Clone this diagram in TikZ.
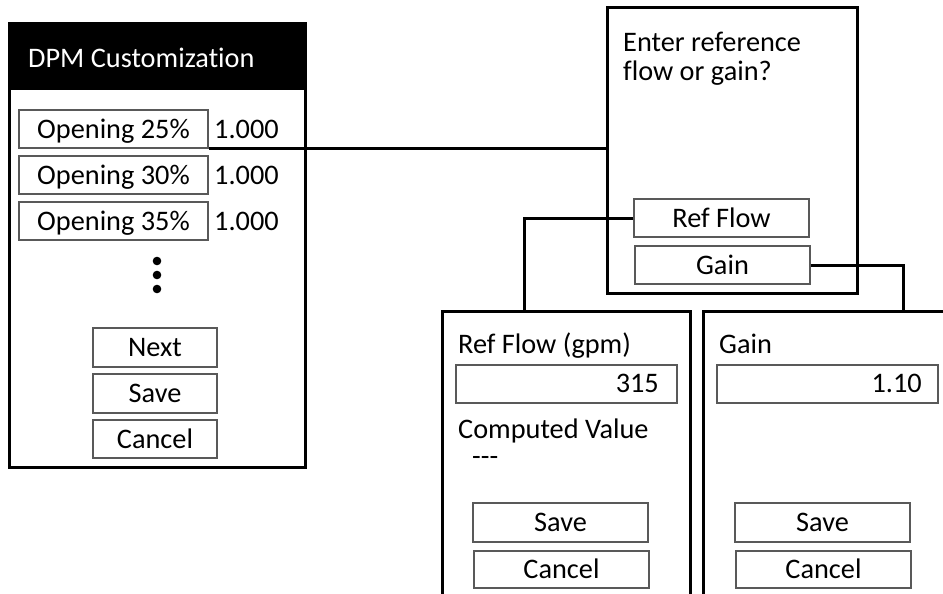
\documentclass[tikz,border=0pt]{standalone}
\usepackage{fontspec}
\setmainfont{Carlito}[Ligatures=NoCommon]
\begin{document}
\begin{tikzpicture}[x=1pt,y=-1pt,
  panel/.style={draw=black,line width=3pt,rectangle,inner sep=0pt},
  btn/.style={draw=black!65,line width=1.4pt,rectangle,inner sep=0pt,
    minimum width=175pt,minimum height=38pt,text height=20pt,text depth=2pt,
    font=\fontsize{28.3}{34}\selectfont},
  lbl/.style={inner sep=0pt,anchor=base west,font=\fontsize{28.3}{34}\selectfont},
  rlbl/.style={inner sep=0pt,anchor=base east,font=\fontsize{28.3}{34}\selectfont},
  conn/.style={draw=black,line width=3pt}]
\useasboundingbox (0,0) rectangle (943,594);
\clip (0,0) rectangle (943,594);
\fill[white] (0,0) rectangle (943,594);

% left panel
\node[panel,minimum width=296pt,minimum height=443pt] (left) at (157,245.5) {};
\node[panel,fill=black,minimum width=296pt,minimum height=65pt] (head) at (157,56.5) {};
\node[lbl,text=white] (htxt) at (28,67) {DPM Customization};

\node[btn,minimum width=189pt] (o25) at (113.5,129) {Opening 25\%};
\node[btn,minimum width=189pt] (o30) at (113.5,175) {Opening 30\%};
\node[btn,minimum width=189pt] (o35) at (113.5,221) {Opening 35\%};
\node[lbl] (v25) at (214,138) {1.000};
\node[lbl] (v30) at (214,184) {1.000};
\node[lbl] (v35) at (214,230) {1.000};
\fill (157,261) circle (4.3pt) (157,275) circle (4.3pt) (157,289) circle (4.3pt);

\node[btn,minimum width=124pt,minimum height=39pt] (next) at (155,347.5) {Next};
\node[btn,minimum width=124pt,minimum height=39pt] (save1) at (155,393.5) {Save};
\node[btn,minimum width=124pt,minimum height=38pt] (cancel1) at (155,439) {Cancel};

% dialog
\node[panel,minimum width=250pt,minimum height=285pt] (dlg) at (732,150.5) {};
\node[inner sep=0pt,anchor=base west,align=left,font=\fontsize{28.3}{29}\selectfont] (q) at (623,81) {Enter reference\\flow or gain?};
\node[btn] (rf) at (721.5,218) {Ref Flow};
\node[btn] (gain) at (722.5,265) {Gain};

% ref flow panel
\node[panel,minimum width=248pt,minimum height=309pt] (rfp) at (566,465.5) {};
\node[lbl] (rft) at (458,353) {Ref Flow (gpm)};
\node[btn,minimum width=221pt] (rfe) at (566.5,384) {};
\node[rlbl] (rfv) at (659,392) {315};
\node[lbl] (cv) at (458,438) {Computed Value};
\node[lbl] (cvv) at (472,465) {{-}{-}{-}};
\node[btn,minimum height=39pt] (save2) at (560.5,522.5) {Save};
\node[btn,minimum height=37pt] (cancel2) at (561.5,569.5) {Cancel};

% gain panel
\node[panel,minimum width=262pt,minimum height=309pt] (gp) at (834,465.5) {};
\node[lbl] (gt) at (719,353) {Gain};
\node[btn,minimum width=221pt] (ge) at (827.5,384) {};
\node[rlbl] (gv) at (922,392) {1.10};
\node[btn,minimum height=39pt] (save3) at (822.5,522.5) {Save};
\node[btn,minimum height=37pt] (cancel3) at (823.5,569.5) {Cancel};

% connectors
\coordinate (rfturn) at (524,218);
\coordinate (gturn) at (903,265);
\draw[conn] (o25.south east) -- (o25.south east -| dlg.west);
\draw[conn] (rf.west) -- (rfturn) -- (rfturn |- rfp.north);
\draw[conn] (gain.east) -- (gturn) -- (gturn |- gp.north);
\end{tikzpicture}
\end{document}
